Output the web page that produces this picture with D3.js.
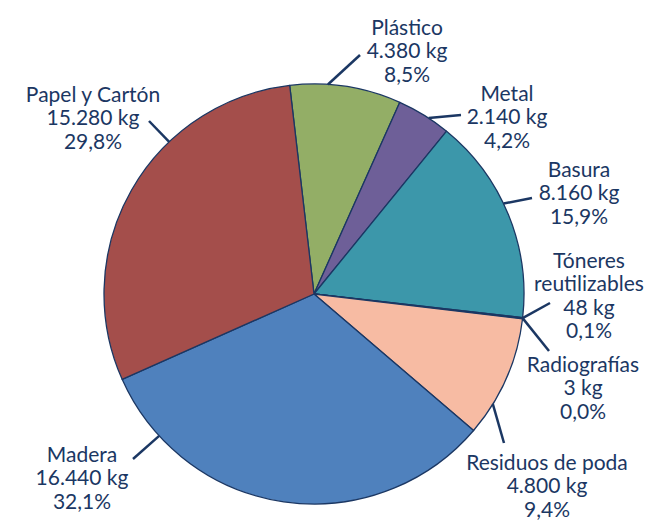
<!DOCTYPE html>
<html><head><meta charset="utf-8">
<script src="https://cdn.jsdelivr.net/npm/d3@7"></script>
<style>body{margin:0;background:#fff}svg{display:block}</style>
</head><body>
<svg id="c" width="652" height="520"></svg>
<script>
const categories = ["Plástico","Metal","Basura","Tóneres reutilizables","Radiografías","Residuos de poda","Madera","Papel y Cartón"];
const values = [4380, 2140, 8160, 48, 3, 4800, 16440, 15280];
const valueLabels = ["4.380 kg","2.140 kg","8.160 kg","48 kg","3 kg","4.800 kg","16.440 kg","15.280 kg"];
const percentLabels = ["8,5%","4,2%","15,9%","0,1%","0,0%","9,4%","32,1%","29,8%"];
const nameLines = [["Plástico"],["Metal"],["Basura"],["Tóneres","reutilizables"],["Radiografías"],["Residuos de poda"],["Madera"],["Papel y Cartón"]];
const colors = ["#93AE66","#6E5F98","#3C97AA","#F0924A","#7BA7D6","#F7BBA3","#4F81BD","#A44E4B"];

// layout (label placement)
const labelPos = [[407,35],[507,101],[579,177],[589,268],[583,372],[547,470],[82,462],[93,102]];
const leaderAngle = [3.8,33.1,64.5,96.6,96.6,121.6,227.5,316.4];
const leaderEnd = [[360,55],[461,115],[532,198],[550,303],[549,351],[504,443],[133,459],[149,121]];

const cx = 314, cy = 294, R = 210;
const ink = "#1B3763";
const svg = d3.select("#c");
const g = svg.append("g").attr("transform", `translate(${cx},${cy})`);
const startA = -6.65 * Math.PI / 180;
const pie = d3.pie().sort(null).value(d => d).startAngle(startA).endAngle(startA + 2*Math.PI);
const arc = d3.arc().innerRadius(0).outerRadius(R);
g.selectAll("path").data(pie(values)).join("path")
  .attr("d", arc).attr("fill", (d,i) => colors[i])
  .attr("stroke", ink).attr("stroke-width", 1.3).attr("stroke-linejoin","round");

// leader lines
const toRad = d3.scaleLinear().domain([0,360]).range([0, 2*Math.PI]);
svg.selectAll("line.leader").data(categories).join("line")
  .attr("class","leader")
  .attr("x1", (d,i) => cx + R*Math.sin(toRad(leaderAngle[i])))
  .attr("y1", (d,i) => cy - R*Math.cos(toRad(leaderAngle[i])))
  .attr("x2", (d,i) => leaderEnd[i][0]).attr("y2", (d,i) => leaderEnd[i][1])
  .attr("stroke", ink).attr("stroke-width", 2.5);

// labels
const lh = 23.3;
categories.forEach((c,i) => {
  const lines = nameLines[i].concat([valueLabels[i], percentLabels[i]]);
  const t = svg.append("text").attr("text-anchor","middle")
    .attr("font-family","Lato, 'Open Sans', sans-serif").attr("font-size",21)
    .attr("fill", ink);
  lines.forEach((l,k) => t.append("tspan").attr("x", labelPos[i][0]).attr("y", labelPos[i][1] + k*lh).text(l));
});
</script>
</body></html>
